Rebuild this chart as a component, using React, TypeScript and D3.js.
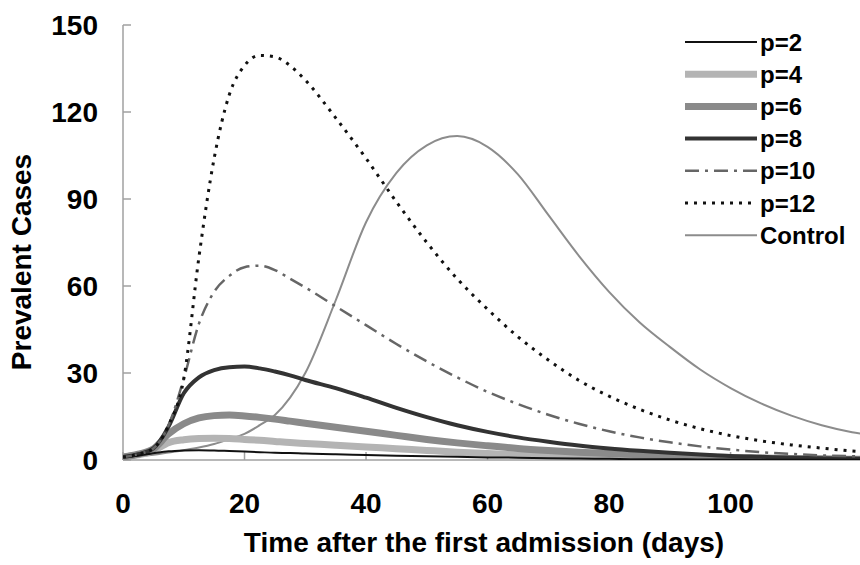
import React from "react";
import { scaleLinear, line, curveMonotoneX } from "d3";

const width = 860;
const height = 565;

const margin = { top: 25, right: 0, bottom: 105, left: 123 };
const innerWidth = width - margin.left - margin.right;
const innerHeight = height - margin.top - margin.bottom;

// days on the x axis
const days = [0, 2.5, 5, 7.5, 10, 12.5, 15, 17.5, 20, 22.5, 25, 27.5, 30, 35, 40, 45, 50, 55, 60, 65, 70, 75, 80, 85, 90, 95, 100, 105, 110, 115, 120, 122];

// prevalent cases per series
const p2 = [1, 1.5, 2.3, 3, 3.3, 3.4, 3.3, 3.1, 2.9, 2.7, 2.5, 2.4, 2.2, 2, 1.7, 1.5, 1.3, 1.1, 0.9, 0.8, 0.6, 0.5, 0.4, 0.3, 0.3, 0.2, 0.2, 0.1, 0.1, 0.1, 0.1, 0.1];
const p4 = [1, 1.8, 3.2, 6, 7, 7.4, 7.5, 7.4, 7.1, 6.8, 6.4, 6, 5.7, 5.1, 4.5, 3.9, 3.3, 2.7, 2.2, 1.8, 1.5, 1.2, 1, 0.8, 0.6, 0.5, 0.4, 0.3, 0.2, 0.2, 0.1, 0.1];
const p6 = [1, 2, 3.8, 9, 12.5, 14.5, 15.3, 15.5, 15.2, 14.7, 14.1, 13.4, 12.7, 11.3, 9.9, 8.5, 7.1, 5.9, 4.9, 4, 3.3, 2.7, 2.2, 1.8, 1.5, 1.2, 0.9, 0.7, 0.5, 0.4, 0.3, 0.3];
const p8 = [1, 2, 4, 11.5, 23, 28.5, 31, 32, 32.2, 31.6, 30.5, 29.2, 27.6, 24.8, 21.5, 18, 14.8, 12, 9.7, 7.8, 6.3, 5, 4, 3.2, 2.5, 1.9, 1.4, 1.1, 0.8, 0.6, 0.5, 0.4];
const p10 = [1, 2, 4, 12, 28, 47, 58, 63.5, 66.5, 67, 65.5, 62.5, 59.5, 53, 46.5, 40, 34, 28.5, 23.5, 19.3, 15.6, 12.5, 9.9, 7.8, 6.1, 4.7, 3.6, 2.7, 2.1, 1.6, 1.3, 1.2];
const p12 = [1, 2, 4, 12, 28, 70, 104, 126, 136, 139.5, 139, 136, 131, 118, 104, 89, 75, 62.5, 52, 42.5, 34.5, 27.5, 22, 17.5, 13.8, 10.8, 8.4, 6.6, 5.2, 4.1, 3.1, 2.8];
const control = [1, 1.3, 1.8, 2.6, 3.4, 4.3, 5.5, 7.2, 9, 12, 15.5, 21.5, 30, 55, 82, 99, 108.5, 111.7, 108, 98.5, 84.5, 70.5, 58, 47.5, 39, 31.2, 24.8, 19.5, 15.3, 12, 9.6, 8.9];

const xTicks = [0, 20, 40, 60, 80, 100];
const yTicks = [0, 30, 60, 90, 120, 150];

const series = [
  { name: "p=2", values: p2, color: "#111", width: 2, dash: null },
  { name: "p=4", values: p4, color: "#b4b4b4", width: 7, dash: null },
  { name: "p=6", values: p6, color: "#8a8a8a", width: 7, dash: null },
  { name: "p=8", values: p8, color: "#333", width: 4, dash: null },
  { name: "p=10", values: p10, color: "#666", width: 2.5, dash: "14,6,3,6" },
  { name: "p=12", values: p12, color: "#111", width: 3, dash: "3,6" },
  { name: "Control", values: control, color: "#8c8c8c", width: 2, dash: null },
];

const font = "'Liberation Sans', Arial, Helvetica, sans-serif";

export default function App() {
  const xScale = scaleLinear().domain([0, 121.3]).range([0, innerWidth]);
  const yScale = scaleLinear().domain([0, 150]).range([innerHeight, 0]);

  const makeLine = (values: number[]) =>
    line<number>()
      .curve(curveMonotoneX)
      .x((d, i) => xScale(days[i]))
      .y((d) => yScale(d))(values);

  // draw order: thick grays first, dashed/dotted on top
  const drawOrder = [6, 1, 2, 3, 0, 4, 5];

  return (
    <svg width={width} height={height} style={{ position: "absolute", left: 0, top: 0, background: "#fff" }} fontFamily={font}>
      <defs>
        <clipPath id="plot">
          <rect x={0} y={-20} width={innerWidth} height={innerHeight + 20} />
        </clipPath>
      </defs>
      <g transform={`translate(${margin.left}, ${margin.top})`}>
        {/* axes */}
        <line x1={0} x2={0} y1={0} y2={innerHeight} stroke="#a0a0a0" strokeWidth={1.5} />
        <line x1={0} x2={innerWidth} y1={innerHeight} y2={innerHeight} stroke="#a0a0a0" strokeWidth={1.5} />

        {yTicks.map((t) => (
          <g key={t} transform={`translate(0, ${yScale(t)})`}>
            <line x2={8} stroke="#a0a0a0" strokeWidth={1.5} />
            <text x={-25} dy="0.36em" textAnchor="end" fontSize={28} fontWeight="bold">
              {t}
            </text>
          </g>
        ))}

        {xTicks.map((t) => (
          <g key={t} transform={`translate(${xScale(t)}, ${innerHeight})`}>
            <line y2={-8} stroke="#a0a0a0" strokeWidth={1.5} />
            <text y={53} textAnchor="middle" fontSize={28} fontWeight="bold">
              {t}
            </text>
          </g>
        ))}

        {/* lines */}
        <g clipPath="url(#plot)">
          {drawOrder.map((i) => {
            const s = series[i];
            return (
              <path
                key={s.name}
                d={makeLine(s.values) || ""}
                fill="none"
                stroke={s.color}
                strokeWidth={s.width}
                strokeDasharray={s.dash || undefined}
                strokeLinejoin="round"
              />
            );
          })}
        </g>
      </g>

      {/* axis titles */}
      <text x={484} y={552} textAnchor="middle" fontSize={28} fontWeight="bold">
        Time after the first admission (days)
      </text>
      <text transform="translate(31, 262) rotate(-90)" textAnchor="middle" fontSize={28} fontWeight="bold">
        Prevalent Cases
      </text>

      {/* legend */}
      <g transform="translate(685, 42)">
        {series.map((s, i) => (
          <g key={s.name} transform={`translate(0, ${i * 32.2})`}>
            <line x1={0} x2={72} stroke={s.color} strokeWidth={s.width} strokeDasharray={s.dash || undefined} />
            <text x={75} dy="0.36em" fontSize={24} fontWeight="bold">
              {s.name}
            </text>
          </g>
        ))}
      </g>
    </svg>
  );
}
